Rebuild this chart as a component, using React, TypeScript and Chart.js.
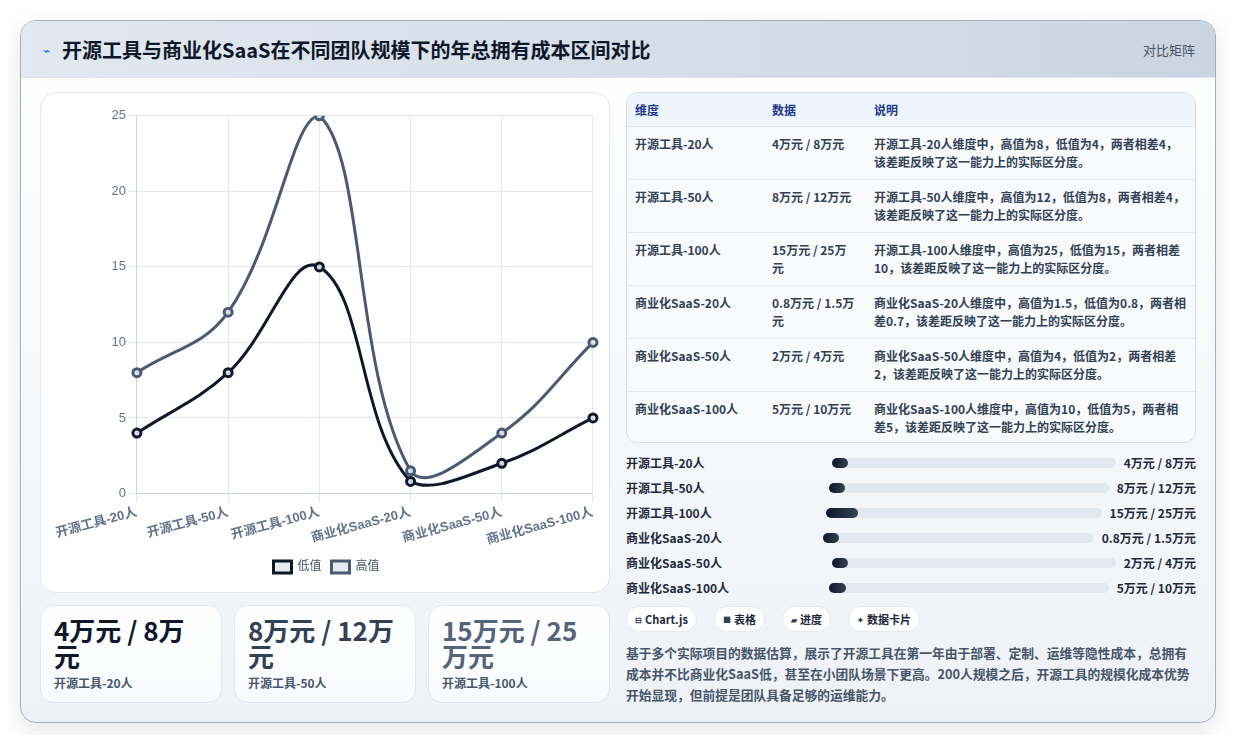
import React, { useEffect, useRef } from 'react';
import { Chart, registerables } from 'chart.js';

Chart.register(...registerables);

const categories = ['开源工具-20人', '开源工具-50人', '开源工具-100人', '商业化SaaS-20人', '商业化SaaS-50人', '商业化SaaS-100人'];
const lowValues = [4, 8, 15, 0.8, 2, 5];
const highValues = [8, 12, 25, 1.5, 4, 10];
const yTicks = [0, 5, 10, 15, 20, 25];
const chipIcons = ['⊟', '■', '▰', '✦'];
const chipLabels = ['Chart.js', '表格', '进度', '数据卡片'];
const cardColors = ['#0f172a', '#334155', '#556479'];

const FONT = '"Noto Sans CJK SC", "Noto Sans", sans-serif';
const CHART_FONT = '"Liberation Sans", Arial, "Noto Sans CJK SC", sans-serif';

const fmt = (v: number) => `${v}万元`;
const pair = (i: number) => `${fmt(lowValues[i])} / ${fmt(highValues[i])}`;
const note = (i: number) =>
  `${categories[i]}维度中，高值为${highValues[i]}，低值为${lowValues[i]}，两者相差${Math.round((highValues[i] - lowValues[i]) * 10) / 10}，该差距反映了这一能力上的实际区分度。`;

const RangeChart: React.FC = () => {
  const canvasRef = useRef<HTMLCanvasElement | null>(null);
  const chartRef = useRef<Chart | null>(null);

  useEffect(() => {
    if (!canvasRef.current) return;
    if (chartRef.current) chartRef.current.destroy();
    chartRef.current = new Chart(canvasRef.current, {
      type: 'line',
      data: {
        labels: categories,
        datasets: [
          {
            label: '低值',
            data: lowValues,
            borderColor: '#0f172a',
            backgroundColor: 'rgba(226,232,240,0.9)',
            borderWidth: 3,
            pointRadius: 4,
            pointBorderWidth: 3,
            tension: 0.4,
          },
          {
            label: '高值',
            data: highValues,
            borderColor: '#4b5a70',
            backgroundColor: 'rgba(226,232,240,0.9)',
            borderWidth: 3,
            pointRadius: 4,
            pointBorderWidth: 3,
            tension: 0.4,
          },
        ],
      },
      options: {
        animation: false,
        responsive: true,
        maintainAspectRatio: false,
        plugins: {
          legend: {
            position: 'bottom',
            labels: {
              boxWidth: 18,
              boxHeight: 12,
              color: '#475569',
              font: { family: CHART_FONT, size: 12 },
            },
          },
          tooltip: { enabled: false },
        },
        scales: {
          x: {
            grid: { color: '#e2e8f0' },
            border: { color: '#cbd5e1' },
            ticks: {
              color: '#64748b',
              minRotation: 15,
              maxRotation: 15,
              font: { family: CHART_FONT, size: 13, weight: 'bold' },
            },
          },
          y: {
            min: yTicks[0],
            max: yTicks[yTicks.length - 1],
            grid: { color: '#e2e8f0' },
            border: { color: '#cbd5e1' },
            ticks: {
              stepSize: yTicks[1] - yTicks[0],
              color: '#64748b',
              font: { family: CHART_FONT, size: 13 },
            },
          },
        },
      },
    });
    return () => {
      if (chartRef.current) chartRef.current.destroy();
      chartRef.current = null;
    };
  }, []);

  return <canvas ref={canvasRef} />;
};

const App: React.FC = () => {
  const maxDiff = 86;
  return (
    <div style={{ padding: '12px 12px', fontFamily: FONT, color: '#0f172a' }}>
      <div
        style={{
          width: 1196,
          height: 703,
          boxSizing: 'border-box',
          borderRadius: 16,
          border: '1px solid #a3b0c2',
          background: 'linear-gradient(180deg, #ffffff 0%, #eef2f7 100%)',
          boxShadow: '0 8px 24px rgba(15,23,42,0.10)',
          overflow: 'hidden',
        }}
      >
        <div
          style={{
            height: 56,
            display: 'flex',
            alignItems: 'center',
            justifyContent: 'space-between',
            padding: '0 20px 0 22px',
            background: 'linear-gradient(90deg, #e2e8f0 0%, #cbd5e1 100%)',
            borderBottom: '1px solid #dbe3ec',
          }}
        >
          <div style={{ display: 'flex', alignItems: 'center', gap: 12 }}>
            <span style={{ color: '#2563eb', fontSize: 12 }}>⌁</span>
            <span style={{ fontSize: 20, fontWeight: 700, color: '#0f172a' }}>
              开源工具与商业化SaaS在不同团队规模下的年总拥有成本区间对比
            </span>
          </div>
          <span style={{ fontSize: 13, color: '#475569' }}>对比矩阵</span>
        </div>

        <div style={{ display: 'flex', gap: 16, padding: '14px 19px 0 19px' }}>
          <div style={{ width: 571, display: 'flex', flexDirection: 'column', gap: 12 }}>
            <div
              style={{
                height: 501,
                boxSizing: 'border-box',
                background: '#ffffff',
                border: '1px solid #e2e8f0',
                borderRadius: 16,
                padding: '12px 9px 9px 12px',
              }}
            >
              <div style={{ position: 'relative', height: 478 }}>
                <RangeChart />
              </div>
            </div>
            <div style={{ display: 'flex', gap: 12 }}>
              {[0, 1, 2].map((i) => (
                <div
                  key={i}
                  style={{
                    flex: 1,
                    height: 98,
                    boxSizing: 'border-box',
                    background: 'linear-gradient(180deg, #ffffff 0%, #f8fbff 100%)',
                    border: '1px solid #dbe7f5',
                    borderRadius: 14,
                    padding: '11px 12px 0 13px',
                  }}
                >
                  <div style={{ fontSize: 26, fontWeight: 700, lineHeight: '26px', color: cardColors[i] }}>{pair(i)}</div>
                  <div style={{ fontSize: 12, fontWeight: 600, color: '#475569', marginTop: 5 }}>{categories[i]}</div>
                </div>
              ))}
            </div>
          </div>

          <div style={{ width: 571, display: 'flex', flexDirection: 'column' }}>
            <div
              style={{
                height: 351,
                boxSizing: 'border-box',
                border: '1px solid #d5dde8',
                borderRadius: 12,
                overflow: 'hidden',
                background: '#f8fafc',
              }}
            >
              <table style={{ width: '100%', borderCollapse: 'collapse', fontSize: 12, fontWeight: 600, color: '#334155' }}>
                <thead>
                  <tr style={{ background: '#eef5fd', height: 33 }}>
                    <th style={{ textAlign: 'left', padding: '0 8px', width: 121, color: '#1e3a8a', fontWeight: 700 }}>维度</th>
                    <th style={{ textAlign: 'left', padding: '0 8px', width: 86, color: '#1e3a8a', fontWeight: 700 }}>数据</th>
                    <th style={{ textAlign: 'left', padding: '0 8px', color: '#1e3a8a', fontWeight: 700 }}>说明</th>
                  </tr>
                </thead>
                <tbody>
                  {categories.map((c, i) => (
                    <tr key={c} style={{ height: 53, borderTop: '1px solid #e2e8f0', verticalAlign: 'top' }}>
                      <td style={{ padding: '8px 8px', lineHeight: '18px' }}>{c}</td>
                      <td style={{ padding: '8px 8px', lineHeight: '18px' }}>{pair(i)}</td>
                      <td style={{ padding: '8px 8px', lineHeight: '18px' }}>{note(i)}</td>
                    </tr>
                  ))}
                </tbody>
              </table>
            </div>

            <div style={{ marginTop: 7 }}>
              {categories.map((c, i) => {
                const diff = highValues[i] - lowValues[i];
                return (
                  <div key={c} style={{ display: 'flex', alignItems: 'center', gap: 8, height: 25, fontSize: 12, fontWeight: 700, color: '#1e293b' }}>
                    <div style={{ flex: 1, whiteSpace: 'nowrap' }}>{c}</div>
                    <div style={{ flex: 1.43, height: 10, borderRadius: 5, background: '#e2e8f0', position: 'relative' }}>
                      <div
                        style={{
                          width: `${(diff / maxDiff) * 100}%`,
                          minWidth: 16,
                          height: 10,
                          borderRadius: 5,
                          background: 'linear-gradient(90deg, #0f172a 0%, #334155 100%)',
                        }}
                      />
                    </div>
                    <div style={{ whiteSpace: 'nowrap' }}>{pair(i)}</div>
                  </div>
                );
              })}
            </div>

            <div style={{ display: 'flex', gap: 17, marginTop: 6 }}>
              {chipLabels.map((t, i) => (
                <div
                  key={t}
                  style={{
                    height: 26,
                    boxSizing: 'border-box',
                    padding: '0 8px',
                    display: 'flex',
                    alignItems: 'center',
                    gap: 3,
                    background: '#ffffff',
                    border: '1px solid #e5eaf1',
                    borderRadius: 13,
                    fontSize: 11,
                    fontWeight: 700,
                    color: '#1e293b',
                  }}
                >
                  <span style={{ fontSize: 8, color: '#334155' }}>{chipIcons[i]}</span>
                  <span>{t}</span>
                </div>
              ))}
            </div>

            <div style={{ marginTop: 10, fontSize: 12.75, fontWeight: 600, lineHeight: '21px', color: '#475569' }}>
              基于多个实际项目的数据估算，展示了开源工具在第一年由于部署、定制、运维等隐性成本，总拥有成本并不比商业化SaaS低，甚至在小团队场景下更高。200人规模之后，开源工具的规模化成本优势开始显现，但前提是团队具备足够的运维能力。
            </div>
          </div>
        </div>
      </div>
    </div>
  );
};

export default App;
